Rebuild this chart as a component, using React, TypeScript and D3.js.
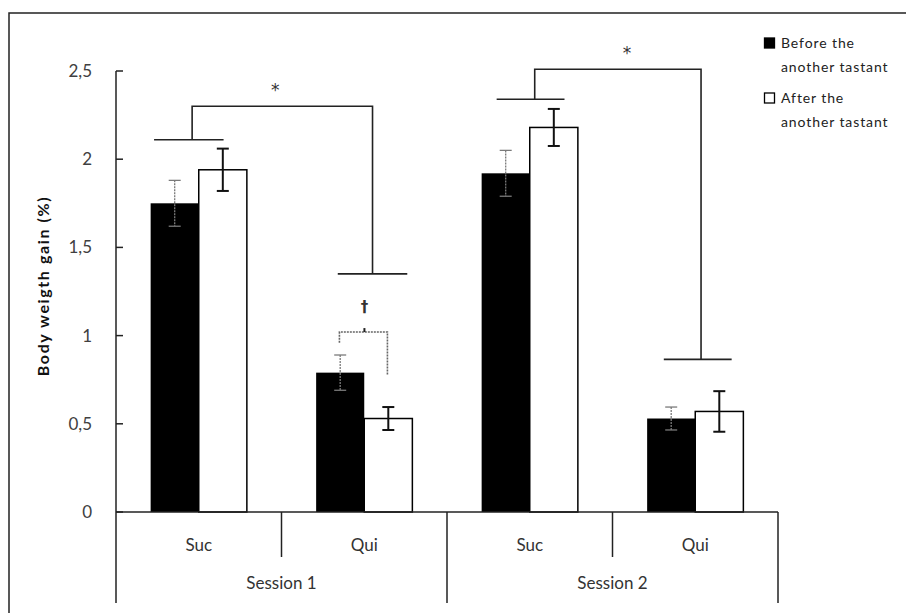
import * as d3 from "d3"

const sessions = ["Session 1", "Session 2"]
const tastants = ["Suc", "Qui"]
const categories = ["S1-Suc", "S1-Qui", "S2-Suc", "S2-Qui"]
const seriesNames = ["Before the another tastant", "After the another tastant"]

const beforeValues = [1.75, 0.79, 1.92, 0.53]
const beforeErrors = [0.13, 0.1, 0.13, 0.065]
const afterValues = [1.94, 0.53, 2.18, 0.57]
const afterErrors = [0.12, 0.065, 0.105, 0.115]

const yTicks = [0, 0.5, 1, 1.5, 2, 2.5]

// significance brackets: y in data units, x as fractions of the category band
const brackets = [
  { left: 0, leftY: 2.11, leftSpan: [0.23, 0.65], leftStem: 0.46, right: 1, rightY: 1.35, rightSpan: [0.34, 0.76], rightStem: 0.55, topY: 2.3, label: "*", labelShift: -7 },
  { left: 2, leftY: 2.34, leftSpan: [0.3, 0.71], leftStem: 0.53, right: 3, rightY: 0.865, rightSpan: [0.31, 0.72], rightStem: 0.535, topY: 2.51, label: "*", labelShift: 9 },
]
const dagger = { cat: 1, y: 1.02, span: [0.35, 0.64], leftEnd: 0.96, rightEnd: 0.78, label: "†" }

const font = "Lato, 'Open Sans', sans-serif"

export default function App() {
  const x0 = 116
  const x1 = 778
  const yTop = 71
  const yBottom = 512

  const x = d3.scaleBand().domain(categories).range([x0, x1])
  const inner = d3.scaleBand().domain(["before", "after"]).range([0, x.bandwidth()]).paddingOuter(0.72).paddingInner(0)
  const y = d3.scaleLinear().domain([0, 2.5]).range([yBottom, yTop])

  const bars = categories.flatMap((c, i) => [
    { cat: c, key: "before", value: beforeValues[i], err: beforeErrors[i] },
    { cat: c, key: "after", value: afterValues[i], err: afterErrors[i] },
  ])

  const bx = (cat: number, f: number) => (x(categories[cat]) as number) + f * x.bandwidth()
  const dLeft = bx(dagger.cat, dagger.span[0])
  const dRight = bx(dagger.cat, dagger.span[1])
  const dMid = (dLeft + dRight) / 2 + 1

  return (
    <svg width={906} height={613} style={{ position: "absolute", left: 0, top: 0, background: "#fff" }}>
      <rect x={9} y={13} width={1000} height={700} fill="#fff" stroke="#222" strokeWidth={1.5} />

      {/* bars */}
      {bars.map((d, i) => (
        <rect
          key={i}
          x={(x(d.cat) as number) + (inner(d.key) as number)}
          y={y(d.value)}
          width={inner.bandwidth()}
          height={yBottom - y(d.value)}
          fill={d.key === "before" ? "#000" : "#fff"}
          stroke="#000"
          strokeWidth={d.key === "before" ? 0 : 1.5}
        />
      ))}

      {/* error bars */}
      {bars.map((d, i) => {
        const cx = (x(d.cat) as number) + (inner(d.key) as number) + inner.bandwidth() / 2
        const before = d.key === "before"
        const col = before ? "#7a7a7a" : "#111"
        const sw = before ? 1.3 : 2
        const hi = y(d.value + d.err)
        const lo = y(d.value - d.err)
        return (
          <g key={"e" + i} stroke={col} strokeWidth={sw}>
            <line x1={cx} x2={cx} y1={hi} y2={lo} strokeDasharray={before ? "2,1" : undefined} />
            <line x1={cx - 6} x2={cx + 6} y1={hi} y2={hi} />
            <line x1={cx - 6} x2={cx + 6} y1={lo} y2={lo} />
          </g>
        )
      })}

      {/* y axis */}
      <line x1={x0} x2={x0} y1={yTop} y2={yBottom} stroke="#222" strokeWidth={1.5} />
      {yTicks.map((t) => (
        <g key={t}>
          <line x1={x0} x2={x0 + 7} y1={y(t)} y2={y(t)} stroke="#222" strokeWidth={1.5} />
          <text x={92} y={y(t)} dy="0.35em" textAnchor="end" fontFamily={font} fontSize={17} fill="#404040">
            {d3.format(".1~f")(t).replace(".", ",")}
          </text>
        </g>
      ))}
      <text
        transform="translate(49,286) rotate(-90)"
        textAnchor="middle"
        fontFamily={font}
        fontWeight="bold"
        fontSize={16}
        letterSpacing={1.6}
        fill="#111"
      >
        Body weigth gain (%)
      </text>

      {/* x axis */}
      <line x1={x0} x2={x1} y1={yBottom} y2={yBottom} stroke="#222" strokeWidth={1.5} />
      {categories.map((c, i) => {
        const left = x(c) as number
        const isSessionEdge = i % 2 === 0
        return (
          <g key={c}>
            <line x1={left} x2={left} y1={yBottom} y2={isSessionEdge ? 603 : 557} stroke="#222" strokeWidth={1.5} />
            <text x={left + x.bandwidth() / 2} y={545} dy="0.35em" textAnchor="middle" fontFamily={font} fontSize={17} fill="#333">
              {tastants[i % 2]}
            </text>
          </g>
        )
      })}
      <line x1={x1} x2={x1} y1={yBottom} y2={603} stroke="#222" strokeWidth={1.5} />
      {sessions.map((s, i) => (
        <text
          key={s}
          x={(x(categories[i * 2]) as number) + x.bandwidth()}
          y={583}
          dy="0.35em"
          textAnchor="middle"
          fontFamily={font}
          fontSize={17}
          fill="#333"
        >
          {s}
        </text>
      ))}

      {/* significance brackets */}
      {brackets.map((b, i) => {
        const ls = bx(b.left, b.leftStem)
        const rs = bx(b.right, b.rightStem)
        return (
          <g key={"b" + i} stroke="#222" strokeWidth={1.6} fill="none">
            <line x1={bx(b.left, b.leftSpan[0])} x2={bx(b.left, b.leftSpan[1])} y1={y(b.leftY)} y2={y(b.leftY)} />
            <line x1={bx(b.right, b.rightSpan[0])} x2={bx(b.right, b.rightSpan[1])} y1={y(b.rightY)} y2={y(b.rightY)} />
            <path d={`M${ls},${y(b.leftY)}V${y(b.topY)}H${rs}V${y(b.rightY)}`} />
            <text
              x={(ls + rs) / 2 + b.labelShift}
              y={y(b.topY) - 22}
              dy="0.7em"
              textAnchor="middle"
              fontFamily="'DejaVu Sans', sans-serif"
              fontSize={17}
              fill="#333"
              stroke="none"
            >
              {b.label}
            </text>
          </g>
        )
      })}

      {/* dagger bracket */}
      <g stroke="#666" strokeWidth={1.6} fill="none">
        <path d={`M${dLeft},${y(dagger.leftEnd)}V${y(dagger.y)}H${dRight}V${y(dagger.rightEnd)}`} strokeDasharray="2,1" />
        <line x1={dMid} x2={dMid} y1={y(dagger.y)} y2={y(dagger.y) - 4} stroke="#222" strokeWidth={2} />
      </g>
      <text
        x={dMid}
        y={y(dagger.y) - 25}
        dy="0.35em"
        textAnchor="middle"
        fontFamily="'DejaVu Sans', sans-serif"
        fontWeight="bold"
        fontSize={15}
        fill="#333"
      >
        {dagger.label}
      </text>

      {/* legend */}
      {seriesNames.map((name, i) => {
        const top = 38 + i * 55
        const words = name.split(" ")
        return (
          <g key={name}>
            <rect x={764.5} y={top} width={10} height={10} fill={i === 0 ? "#000" : "#fff"} stroke="#000" strokeWidth={1.3} />
            <text x={781} y={top + 10} fontFamily={font} fontSize={14} letterSpacing={0.9} fill="#222">
              {words.slice(0, 2).join(" ")}
            </text>
            <text x={781} y={top + 34} fontFamily={font} fontSize={14} letterSpacing={0.9} fill="#222">
              {words.slice(2).join(" ")}
            </text>
          </g>
        )
      })}
    </svg>
  )
}
